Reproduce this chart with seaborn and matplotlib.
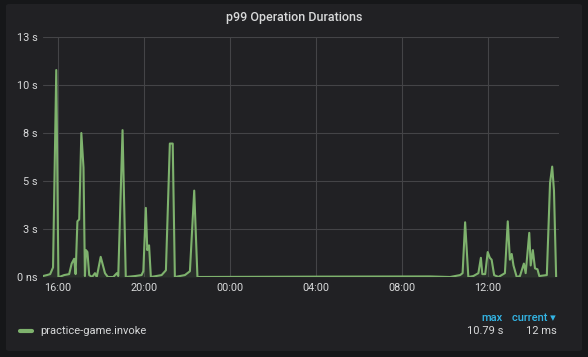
import pandas as pd
import matplotlib.pyplot as plt
import matplotlib.dates as mdates
from matplotlib.patches import FancyBboxPatch
import seaborn as sns

# p99 durations of practice-game.invoke
times = [
    "01 15:18", "01 15:29", "01 15:38", "01 15:46", "01 15:55", "01 16:01", "01 16:06",
    "01 16:17", "01 16:31", "01 16:38", "01 16:45", "01 16:49", "01 16:54", "01 16:59",
    "01 17:05", "01 17:11", "01 17:15", "01 17:18", "01 17:22", "01 17:27", "01 17:35",
    "01 17:43", "01 17:48", "01 17:59", "01 18:11", "01 18:19", "01 18:34", "01 18:44",
    "01 18:48", "01 19:00", "01 19:09", "01 19:35", "01 19:53", "01 19:58", "01 20:05",
    "01 20:09", "01 20:14", "01 20:19", "01 20:49", "01 21:01", "01 21:12", "01 21:20",
    "01 21:26", "01 21:54", "01 22:08", "01 22:20", "01 22:29", "02 04:11", "02 09:18",
    "02 10:14", "02 10:42", "02 10:49", "02 10:56", "02 11:05", "02 11:19", "02 11:33",
    "02 11:40", "02 11:44", "02 11:52", "02 11:59", "02 12:05", "02 12:10", "02 12:17",
    "02 12:29", "02 12:38", "02 12:47", "02 12:55", "02 13:01", "02 13:06", "02 13:11",
    "02 13:20", "02 13:29", "02 13:40", "02 13:45", "02 13:55", "02 13:59", "02 14:05",
    "02 14:11", "02 14:18", "02 14:23", "02 14:44", "02 14:53", "02 14:59", "02 15:04",
    "02 15:10",
]
seconds = [
    0.05, 0.1, 0.15, 0.5, 10.78, 0.0, 0.02,
    0.1, 0.15, 0.7, 0.95, 0.15, 2.9, 3.0,
    7.5, 5.7, 0.05, 1.4, 1.3, 0.1, 0.0,
    0.2, 0.0, 1.05, 0.2, 0.0, 0.0, 0.2,
    0.05, 7.65, 0.0, 0.05, 0.1, 0.3, 3.6,
    1.4, 1.65, 0.0, 0.1, 0.35, 6.95, 6.95,
    0.0, 0.1, 0.3, 4.5, 0.0, 0.02, 0.03,
    0.0, 0.1, 0.2, 2.85, 0.0, 0.05, 0.2,
    1.0, 0.15, 0.15, 1.3, 1.0, 0.9, 0.1,
    0.0, 0.1, 0.2, 2.9, 0.9, 1.2, 0.6,
    0.0, 0.05, 0.7, 0.2, 2.3, 0.6, 1.4,
    0.45, 0.4, 0.05, 0.1, 4.9, 5.75, 4.5,
    0.012,
]
y_ticks = [0, 2.5, 5, 7.5, 10, 12.5]
y_labels = ["0 ns", "3 s", "5 s", "8 s", "10 s", "13 s"]
series_name = "practice-game.invoke"
legend_max = "10.79 s"
legend_current = "12 ms"

df = pd.DataFrame({"time": pd.to_datetime(["2024-01-" + t for t in times]),
                   "value": seconds})

sns.set_theme(style="dark")
plt.rcParams['font.family'] = ['Roboto', 'DejaVu Sans']

green = "#7eb26d"
text_col = "#d8d9da"
grid_col = "#444447"

fig = plt.figure(figsize=(5.88, 3.57), dpi=100)
fig.patch.set_facecolor("#161719")
panel = FancyBboxPatch((6 / 588, 1 - 351 / 357), 576 / 588, 347 / 357,
                       boxstyle="round,pad=0,rounding_size=0.006",
                       transform=fig.transFigure, facecolor="#212124",
                       edgecolor="none", zorder=-10)
fig.patches.append(panel)

ax = fig.add_axes([43 / 588, 1 - 277 / 357, 516 / 588, 240 / 357])
ax.set_zorder(1)
ax.set_facecolor("none")
sns.lineplot(data=df, x="time", y="value", color=green, linewidth=1.5, ax=ax)
ax.fill_between(df["time"], df["value"], color=green, alpha=0.1, linewidth=0)

ax.set_xlim(pd.Timestamp("2024-01-01 15:18"), pd.Timestamp("2024-01-02 15:18"))
ax.set_ylim(0, 12.5)
ax.set_yticks(y_ticks)
ax.set_yticklabels(y_labels)
ax.xaxis.set_major_locator(mdates.HourLocator(byhour=[0, 4, 8, 12, 16, 20]))
ax.xaxis.set_major_formatter(mdates.DateFormatter("%H:%M"))
ax.set_xlabel("")
ax.set_ylabel("")
ax.grid(True, color=grid_col, linewidth=0.8)
for s in ax.spines.values():
    s.set_visible(False)
ax.tick_params(colors=text_col, labelsize=7.8, length=0, pad=4)
for lbl in ax.get_xticklabels() + ax.get_yticklabels():
    lbl.set_color(text_col)

fig.text(0.5, 1 - 18 / 357, "p99 Operation Durations", ha="center", va="center",
         color=text_col, fontsize=9, fontweight="medium")

# legend table
fig.add_artist(plt.Line2D([20 / 588, 32 / 588], [1 - 331 / 357] * 2,
                          color=green, linewidth=3, transform=fig.transFigure))
fig.text(40 / 588, 1 - 331 / 357, series_name, ha="left", va="center",
         color=text_col, fontsize=8)
blue = "#33b5e5"
fig.text(503 / 588, 1 - 318 / 357, "max", ha="right", va="center",
         color=blue, fontsize=8, fontweight="medium")
fig.text(556 / 588, 1 - 318 / 357, "current \u25be", ha="right", va="center",
         color=blue, fontsize=8, fontweight="medium")
fig.text(503 / 588, 1 - 331 / 357, legend_max, ha="right", va="center",
         color=text_col, fontsize=8)
fig.text(557 / 588, 1 - 331 / 357, legend_current, ha="right", va="center",
         color=text_col, fontsize=8)

fig.savefig("out.png", dpi=100, facecolor=fig.get_facecolor())
